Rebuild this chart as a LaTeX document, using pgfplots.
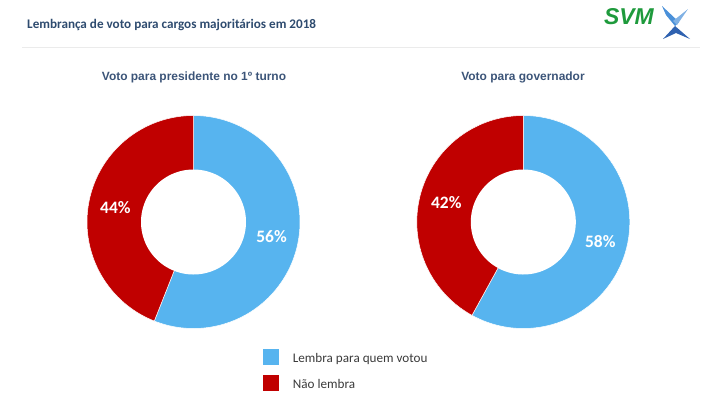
\documentclass[border=0pt]{standalone}
\usepackage{pgfplots}
\usepackage{pgfplotstable}
\pgfplotsset{compat=1.18}
\usepackage{fontspec}
\setmainfont{Carlito}
\newfontfamily\arialf{Liberation Sans}
\definecolor{lblue}{HTML}{57B4EF}
\definecolor{dred}{HTML}{C00000}
\definecolor{titc}{HTML}{2E4B6F}
\definecolor{subc}{HTML}{3B5478}
\definecolor{legc}{HTML}{3A3A3A}
\definecolor{logog}{HTML}{1E9A3C}
\definecolor{logob1}{HTML}{4A90D9}
\definecolor{logob2}{HTML}{2F62B0}

\pgfplotstableread{
cargo lembra nao cx cy
presidente 56 44 193.5 222
governador 58 42 523.3 222
}\votos

\begin{document}
\begin{tikzpicture}
\begin{axis}[
  x=1bp, y=1bp,
  xmin=0, xmax=712, ymin=0, ymax=397,
  y dir=reverse,
  hide axis, clip=false,
]
\path[draw=none] (axis cs:0,0) rectangle (axis cs:712,397);

% title and rule
\node[anchor=base west, inner sep=0, text=titc, font=\fontsize{13.2}{16}\selectfont\bfseries]
  at (axis cs:27,28.3) {Lembrança de voto para cargos majoritários em 2018};
\draw[color=black!8, line width=0.8pt] (axis cs:22,47) -- (axis cs:700,47);

% logo
\node[anchor=center, inner sep=0, text=logog, font=\arialf\fontsize{23}{24}\selectfont\bfseries\itshape]
  at (axis cs:629,17) {SVM};
\fill[logob1] (axis cs:662,6) -- (axis cs:679,22) -- (axis cs:675,26) -- (axis cs:666,15) -- cycle;
\fill[logob1!70] (axis cs:688,9) -- (axis cs:677,25) -- (axis cs:673,21) -- cycle;
\fill[logob2] (axis cs:663,39) -- (axis cs:675,26) -- (axis cs:690,39) -- (axis cs:676,33) -- cycle;

% donuts
\foreach \row in {0,1} {
  \pgfplotstablegetelem{\row}{lembra}\of\votos \let\pL\pgfplotsretval
  \pgfplotstablegetelem{\row}{cx}\of\votos \let\cx\pgfplotsretval
  \pgfplotstablegetelem{\row}{cy}\of\votos \let\cy\pgfplotsretval
  \pgfmathsetmacro\aS{-90}
  \pgfmathsetmacro\aM{-90+3.6*\pL}
  \pgfmathsetmacro\aE{270}
  \edef\temp{%
    \noexpand\addplot[fill=lblue, draw=white, line width=0.5pt, domain=\aS:\aM, samples=120, variable=\noexpand\t]
      ({\cx+106.5*cos(\noexpand\t)},{\cy+106.5*sin(\noexpand\t)}) -- (axis cs:\cx,\cy) -- cycle;
    \noexpand\addplot[fill=dred, draw=white, line width=0.5pt, domain=\aM:\aE, samples=120, variable=\noexpand\t]
      ({\cx+106.5*cos(\noexpand\t)},{\cy+106.5*sin(\noexpand\t)}) -- (axis cs:\cx,\cy) -- cycle;
    \noexpand\addplot[fill=white, draw=none, domain=0:360, samples=160, variable=\noexpand\t]
      ({\cx+52.5*cos(\noexpand\t)},{\cy+52.5*sin(\noexpand\t)}) -- cycle;
  }
  \temp
}

% percentage labels (mid-angle, mid-radius)
\pgfplotstablegetelem{0}{lembra}\of\votos \let\pa\pgfplotsretval
\pgfplotstablegetelem{0}{nao}\of\votos \let\pb\pgfplotsretval
\pgfplotstablegetelem{1}{lembra}\of\votos \let\pc\pgfplotsretval
\pgfplotstablegetelem{1}{nao}\of\votos \let\pd\pgfplotsretval
\tikzset{lab/.style={anchor=center, inner sep=0, text=white, font=\fontsize{17.5}{20}\selectfont\bfseries}}
\node[lab] at (axis cs:{193.5+79.5*cos(-90+1.8*\pa)},{222+79.5*sin(-90+1.8*\pa)}) {\pa\%};
\node[lab] at (axis cs:{193.5+79.5*cos(-90+3.6*\pa+1.8*\pb)},{222+79.5*sin(-90+3.6*\pa+1.8*\pb)}) {\pb\%};
\node[lab] at (axis cs:{523.3+79.5*cos(-90+1.8*\pc)},{222+79.5*sin(-90+1.8*\pc)}) {\pc\%};
\node[lab] at (axis cs:{523.3+79.5*cos(-90+3.6*\pc+1.8*\pd)},{222+79.5*sin(-90+3.6*\pc+1.8*\pd)}) {\pd\%};

% subtitles
\node[anchor=base, inner sep=0, text=subc, font=\arialf\fontsize{12}{14}\selectfont\bfseries]
  at (axis cs:194,80.7) {Voto para presidente no 1º turno};
\node[anchor=base, inner sep=0, text=subc, font=\arialf\fontsize{12}{14}\selectfont\bfseries]
  at (axis cs:523,80.7) {Voto para governador};

% legend
\fill[lblue] (axis cs:262.7,349.3) rectangle (axis cs:278.7,364.7);
\fill[dred] (axis cs:262.7,375.2) rectangle (axis cs:278.7,390.7);
\node[anchor=base west, inner sep=0, text=legc, font=\fontsize{13.2}{16}\selectfont]
  at (axis cs:292.7,362) {Lembra para quem votou};
\node[anchor=base west, inner sep=0, text=legc, font=\fontsize{13.2}{16}\selectfont]
  at (axis cs:292.7,388.3) {Não lembra};
\end{axis}
\end{tikzpicture}
\end{document}
